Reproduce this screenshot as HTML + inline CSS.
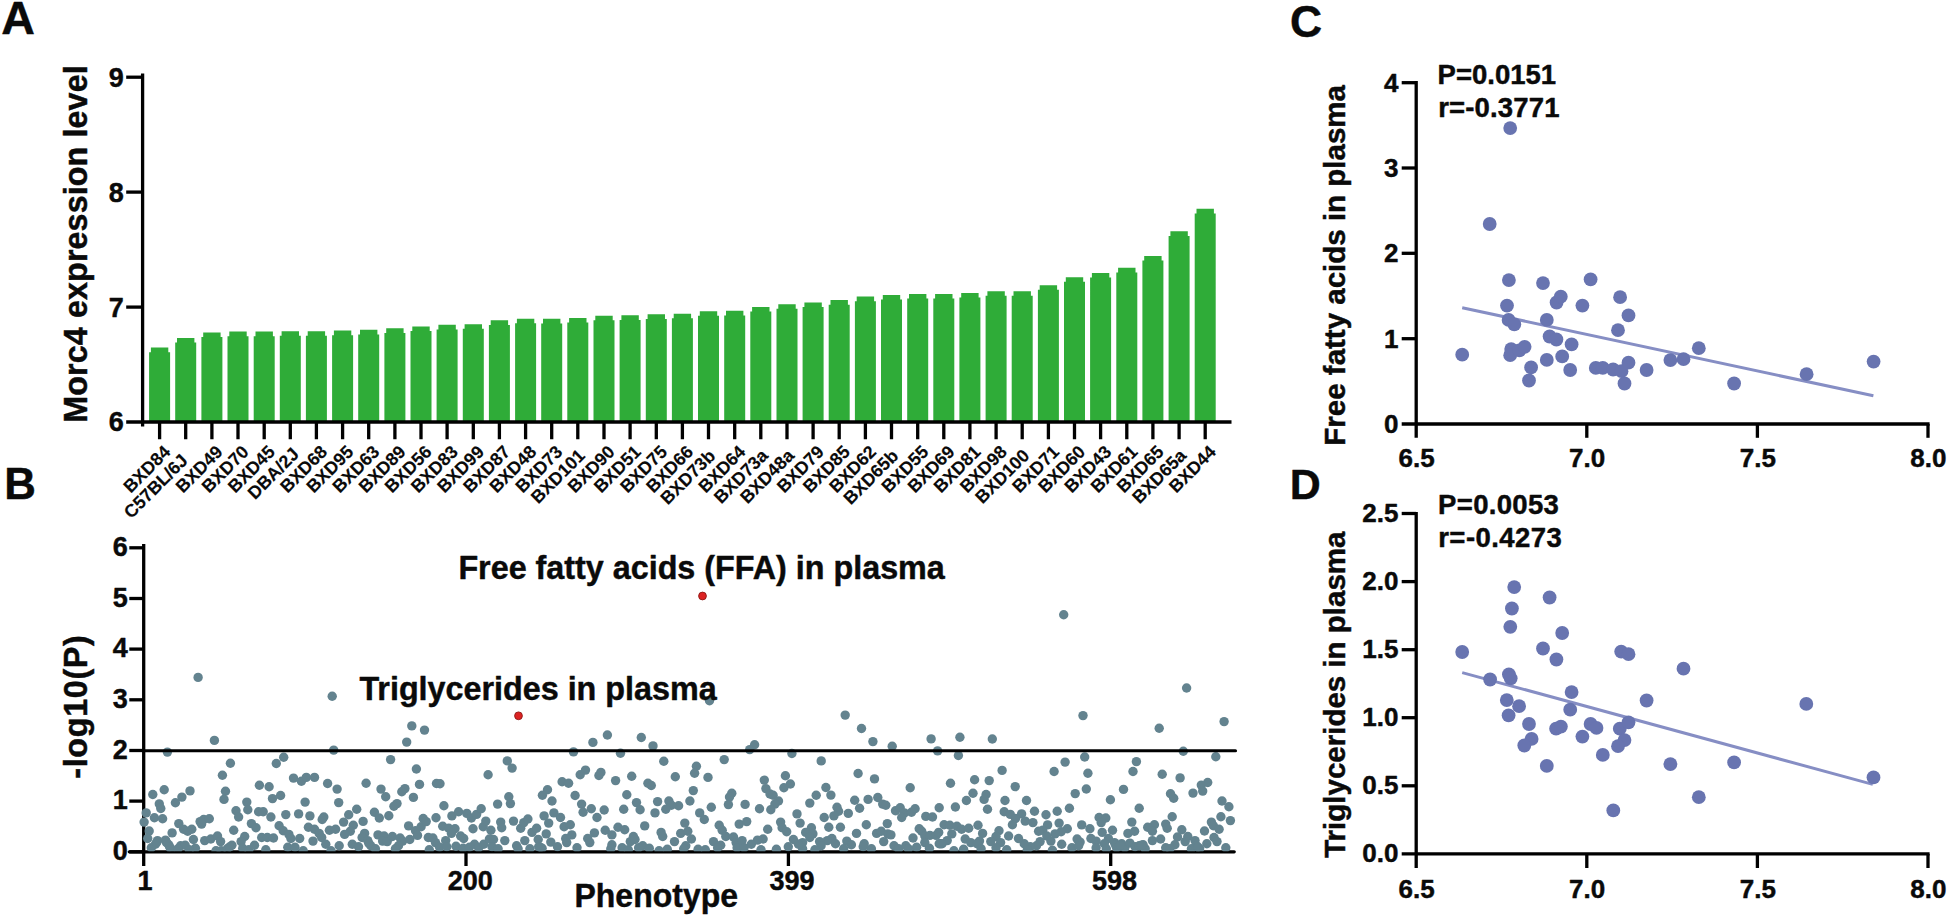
<!DOCTYPE html>
<html lang="en"><head><meta charset="utf-8"><title>Morc4 expression and plasma lipid phenotypes</title>
<style>html,body{margin:0;padding:0;background:#fff;overflow:hidden}svg{display:block}text{font-family:"Liberation Sans", Arial, Helvetica, sans-serif;font-weight:700;fill:#0a0a0a;stroke:#0a0a0a;stroke-width:0.45px;stroke-linejoin:round}text.sm{stroke-width:0.15px}.ax{stroke:#000;stroke-width:3.3;fill:none;stroke-linecap:butt}.bar{fill:#2fac38}.gd{fill:#63838f}.bd{fill:#6874b0}.rl{stroke:#868ec4;stroke-width:3;stroke-linecap:butt}</style></head><body>
<svg width="1948" height="917" viewBox="0 0 1948 917">
<rect width="1948" height="917" fill="#fff"/>
<text x="1.2" y="34.2" font-size="46.6">A</text>
<text x="4.3" y="499.2" font-size="43.8">B</text>
<text x="1289.9" y="37.2" font-size="44.4">C</text>
<text x="1289.8" y="499.4" font-size="42.9">D</text>
<g id="panelA">
<path class="bar" d="M149.1 422.0L149.1 352.2L150.9 352.2L150.9 347.6L168.3 347.6L168.3 352.2L170.1 352.2L170.1 422.0ZM175.2 422.0L175.2 342.6L177.0 342.6L177.0 338.0L194.4 338.0L194.4 342.6L196.2 342.6L196.2 422.0ZM201.4 422.0L201.4 337.0L203.2 337.0L203.2 332.4L220.6 332.4L220.6 337.0L222.4 337.0L222.4 422.0ZM227.5 422.0L227.5 336.2L229.3 336.2L229.3 331.6L246.7 331.6L246.7 336.2L248.5 336.2L248.5 422.0ZM253.7 422.0L253.7 336.2L255.5 336.2L255.5 331.6L272.9 331.6L272.9 336.2L274.7 336.2L274.7 422.0ZM279.8 422.0L279.8 335.8L281.6 335.8L281.6 331.2L299.0 331.2L299.0 335.8L300.8 335.8L300.8 422.0ZM305.9 422.0L305.9 335.8L307.7 335.8L307.7 331.2L325.1 331.2L325.1 335.8L326.9 335.8L326.9 422.0ZM332.1 422.0L332.1 335.2L333.9 335.2L333.9 330.6L351.3 330.6L351.3 335.2L353.1 335.2L353.1 422.0ZM358.2 422.0L358.2 334.4L360.0 334.4L360.0 329.8L377.4 329.8L377.4 334.4L379.2 334.4L379.2 422.0ZM384.4 422.0L384.4 332.9L386.2 332.9L386.2 328.3L403.6 328.3L403.6 332.9L405.4 332.9L405.4 422.0ZM410.5 422.0L410.5 331.1L412.3 331.1L412.3 326.5L429.7 326.5L429.7 331.1L431.5 331.1L431.5 422.0ZM436.6 422.0L436.6 329.4L438.4 329.4L438.4 324.8L455.8 324.8L455.8 329.4L457.6 329.4L457.6 422.0ZM462.8 422.0L462.8 328.8L464.6 328.8L464.6 324.2L482.0 324.2L482.0 328.8L483.8 328.8L483.8 422.0ZM488.9 422.0L488.9 324.9L490.7 324.9L490.7 320.3L508.1 320.3L508.1 324.9L509.9 324.9L509.9 422.0ZM515.1 422.0L515.1 323.3L516.9 323.3L516.9 318.7L534.3 318.7L534.3 323.3L536.1 323.3L536.1 422.0ZM541.2 422.0L541.2 323.4L543.0 323.4L543.0 318.8L560.4 318.8L560.4 323.4L562.2 323.4L562.2 422.0ZM567.3 422.0L567.3 322.6L569.1 322.6L569.1 318.0L586.5 318.0L586.5 322.6L588.3 322.6L588.3 422.0ZM593.5 422.0L593.5 320.3L595.3 320.3L595.3 315.7L612.7 315.7L612.7 320.3L614.5 320.3L614.5 422.0ZM619.6 422.0L619.6 319.9L621.4 319.9L621.4 315.3L638.8 315.3L638.8 319.9L640.6 319.9L640.6 422.0ZM645.8 422.0L645.8 318.9L647.6 318.9L647.6 314.3L665.0 314.3L665.0 318.9L666.8 318.9L666.8 422.0ZM671.9 422.0L671.9 318.3L673.7 318.3L673.7 313.7L691.1 313.7L691.1 318.3L692.9 318.3L692.9 422.0ZM698.0 422.0L698.0 315.8L699.8 315.8L699.8 311.2L717.2 311.2L717.2 315.8L719.0 315.8L719.0 422.0ZM724.2 422.0L724.2 315.4L726.0 315.4L726.0 310.8L743.4 310.8L743.4 315.4L745.2 315.4L745.2 422.0ZM750.3 422.0L750.3 311.5L752.1 311.5L752.1 306.9L769.5 306.9L769.5 311.5L771.3 311.5L771.3 422.0ZM776.5 422.0L776.5 308.8L778.3 308.8L778.3 304.2L795.7 304.2L795.7 308.8L797.5 308.8L797.5 422.0ZM802.6 422.0L802.6 307.0L804.4 307.0L804.4 302.4L821.8 302.4L821.8 307.0L823.6 307.0L823.6 422.0ZM828.7 422.0L828.7 304.7L830.5 304.7L830.5 300.1L847.9 300.1L847.9 304.7L849.7 304.7L849.7 422.0ZM854.9 422.0L854.9 301.2L856.7 301.2L856.7 296.6L874.1 296.6L874.1 301.2L875.9 301.2L875.9 422.0ZM881.0 422.0L881.0 299.6L882.8 299.6L882.8 295.0L900.2 295.0L900.2 299.6L902.0 299.6L902.0 422.0ZM907.2 422.0L907.2 298.5L909.0 298.5L909.0 293.9L926.4 293.9L926.4 298.5L928.2 298.5L928.2 422.0ZM933.3 422.0L933.3 298.6L935.1 298.6L935.1 294.0L952.5 294.0L952.5 298.6L954.3 298.6L954.3 422.0ZM959.4 422.0L959.4 297.5L961.2 297.5L961.2 292.9L978.6 292.9L978.6 297.5L980.4 297.5L980.4 422.0ZM985.6 422.0L985.6 295.8L987.4 295.8L987.4 291.2L1004.8 291.2L1004.8 295.8L1006.6 295.8L1006.6 422.0ZM1011.7 422.0L1011.7 295.8L1013.5 295.8L1013.5 291.2L1030.9 291.2L1030.9 295.8L1032.7 295.8L1032.7 422.0ZM1037.9 422.0L1037.9 289.8L1039.7 289.8L1039.7 285.2L1057.1 285.2L1057.1 289.8L1058.9 289.8L1058.9 422.0ZM1064.0 422.0L1064.0 281.8L1065.8 281.8L1065.8 277.2L1083.2 277.2L1083.2 281.8L1085.0 281.8L1085.0 422.0ZM1090.1 422.0L1090.1 277.5L1091.9 277.5L1091.9 272.9L1109.3 272.9L1109.3 277.5L1111.1 277.5L1111.1 422.0ZM1116.3 422.0L1116.3 272.4L1118.1 272.4L1118.1 267.8L1135.5 267.8L1135.5 272.4L1137.3 272.4L1137.3 422.0ZM1142.4 422.0L1142.4 260.6L1144.2 260.6L1144.2 256.0L1161.6 256.0L1161.6 260.6L1163.4 260.6L1163.4 422.0ZM1168.6 422.0L1168.6 235.9L1170.4 235.9L1170.4 231.3L1187.8 231.3L1187.8 235.9L1189.6 235.9L1189.6 422.0ZM1194.7 422.0L1194.7 213.4L1196.5 213.4L1196.5 208.8L1213.9 208.8L1213.9 213.4L1215.7 213.4L1215.7 422.0Z"/>
<path class="ax" d="M142.6 73.6V426.5"/>
<path class="ax" d="M126.2 422.0H1231.5"/>
<path class="ax" d="M126.2 307.1H142.6"/>
<path class="ax" d="M126.2 192.1H142.6"/>
<path class="ax" d="M126.2 77.2H142.6"/>
<path class="ax" d="M159.6 422.0V439.3M185.7 422.0V439.3M211.9 422.0V439.3M238.0 422.0V439.3M264.2 422.0V439.3M290.3 422.0V439.3M316.4 422.0V439.3M342.6 422.0V439.3M368.7 422.0V439.3M394.9 422.0V439.3M421.0 422.0V439.3M447.1 422.0V439.3M473.3 422.0V439.3M499.4 422.0V439.3M525.6 422.0V439.3M551.7 422.0V439.3M577.8 422.0V439.3M604.0 422.0V439.3M630.1 422.0V439.3M656.3 422.0V439.3M682.4 422.0V439.3M708.5 422.0V439.3M734.7 422.0V439.3M760.8 422.0V439.3M787.0 422.0V439.3M813.1 422.0V439.3M839.2 422.0V439.3M865.4 422.0V439.3M891.5 422.0V439.3M917.7 422.0V439.3M943.8 422.0V439.3M969.9 422.0V439.3M996.1 422.0V439.3M1022.2 422.0V439.3M1048.4 422.0V439.3M1074.5 422.0V439.3M1100.6 422.0V439.3M1126.8 422.0V439.3M1152.9 422.0V439.3M1179.1 422.0V439.3M1205.2 422.0V439.3"/>
<text x="123.9" y="431.4" font-size="27" text-anchor="end">6</text>
<text x="123.9" y="316.5" font-size="27" text-anchor="end">7</text>
<text x="123.9" y="201.5" font-size="27" text-anchor="end">8</text>
<text x="123.9" y="86.6" font-size="27" text-anchor="end">9</text>
<text transform="translate(86.5 422.7) rotate(-90)" font-size="32.3" textLength="357.4" lengthAdjust="spacing">Morc4 expression level</text>
<text class="sm" transform="translate(171.5 453.0) rotate(-45)" x="-0.0" font-size="17.9" text-anchor="end">BXD84</text>
<text class="sm" transform="translate(197.6 453.0) rotate(-45)" x="-12.4" font-size="17.9" text-anchor="end">C57BL/6J</text>
<text class="sm" transform="translate(223.8 453.0) rotate(-45)" x="-0.0" font-size="17.9" text-anchor="end">BXD49</text>
<text class="sm" transform="translate(249.9 453.0) rotate(-45)" x="-0.0" font-size="17.9" text-anchor="end">BXD70</text>
<text class="sm" transform="translate(276.1 453.0) rotate(-45)" x="-0.0" font-size="17.9" text-anchor="end">BXD45</text>
<text class="sm" transform="translate(302.2 453.0) rotate(-45)" x="-3.1" font-size="17.9" text-anchor="end">DBA/2J</text>
<text class="sm" transform="translate(328.3 453.0) rotate(-45)" x="-0.0" font-size="17.9" text-anchor="end">BXD68</text>
<text class="sm" transform="translate(354.5 453.0) rotate(-45)" x="-0.0" font-size="17.9" text-anchor="end">BXD95</text>
<text class="sm" transform="translate(380.6 453.0) rotate(-45)" x="-0.0" font-size="17.9" text-anchor="end">BXD63</text>
<text class="sm" transform="translate(406.8 453.0) rotate(-45)" x="-0.0" font-size="17.9" text-anchor="end">BXD89</text>
<text class="sm" transform="translate(432.9 453.0) rotate(-45)" x="-0.0" font-size="17.9" text-anchor="end">BXD56</text>
<text class="sm" transform="translate(459.0 453.0) rotate(-45)" x="-0.0" font-size="17.9" text-anchor="end">BXD83</text>
<text class="sm" transform="translate(485.2 453.0) rotate(-45)" x="-0.0" font-size="17.9" text-anchor="end">BXD99</text>
<text class="sm" transform="translate(511.3 453.0) rotate(-45)" x="-0.0" font-size="17.9" text-anchor="end">BXD87</text>
<text class="sm" transform="translate(537.5 453.0) rotate(-45)" x="-0.0" font-size="17.9" text-anchor="end">BXD48</text>
<text class="sm" transform="translate(563.6 453.0) rotate(-45)" x="-0.0" font-size="17.9" text-anchor="end">BXD73</text>
<text class="sm" transform="translate(589.7 453.0) rotate(-45)" x="-5.2" font-size="17.9" text-anchor="end">BXD101</text>
<text class="sm" transform="translate(615.9 453.0) rotate(-45)" x="-0.0" font-size="17.9" text-anchor="end">BXD90</text>
<text class="sm" transform="translate(642.0 453.0) rotate(-45)" x="-0.0" font-size="17.9" text-anchor="end">BXD51</text>
<text class="sm" transform="translate(668.2 453.0) rotate(-45)" x="-0.0" font-size="17.9" text-anchor="end">BXD75</text>
<text class="sm" transform="translate(694.3 453.0) rotate(-45)" x="-0.0" font-size="17.9" text-anchor="end">BXD66</text>
<text class="sm" transform="translate(720.4 453.0) rotate(-45)" x="-5.7" font-size="17.9" text-anchor="end">BXD73b</text>
<text class="sm" transform="translate(746.6 453.0) rotate(-45)" x="-0.0" font-size="17.9" text-anchor="end">BXD64</text>
<text class="sm" transform="translate(772.7 453.0) rotate(-45)" x="-5.2" font-size="17.9" text-anchor="end">BXD73a</text>
<text class="sm" transform="translate(798.9 453.0) rotate(-45)" x="-5.2" font-size="17.9" text-anchor="end">BXD48a</text>
<text class="sm" transform="translate(825.0 453.0) rotate(-45)" x="-0.0" font-size="17.9" text-anchor="end">BXD79</text>
<text class="sm" transform="translate(851.1 453.0) rotate(-45)" x="-0.0" font-size="17.9" text-anchor="end">BXD85</text>
<text class="sm" transform="translate(877.3 453.0) rotate(-45)" x="-0.0" font-size="17.9" text-anchor="end">BXD62</text>
<text class="sm" transform="translate(903.4 453.0) rotate(-45)" x="-5.7" font-size="17.9" text-anchor="end">BXD65b</text>
<text class="sm" transform="translate(929.6 453.0) rotate(-45)" x="-0.0" font-size="17.9" text-anchor="end">BXD55</text>
<text class="sm" transform="translate(955.7 453.0) rotate(-45)" x="-0.0" font-size="17.9" text-anchor="end">BXD69</text>
<text class="sm" transform="translate(981.8 453.0) rotate(-45)" x="-0.0" font-size="17.9" text-anchor="end">BXD81</text>
<text class="sm" transform="translate(1008.0 453.0) rotate(-45)" x="-0.0" font-size="17.9" text-anchor="end">BXD98</text>
<text class="sm" transform="translate(1034.1 453.0) rotate(-45)" x="-5.2" font-size="17.9" text-anchor="end">BXD100</text>
<text class="sm" transform="translate(1060.3 453.0) rotate(-45)" x="-0.0" font-size="17.9" text-anchor="end">BXD71</text>
<text class="sm" transform="translate(1086.4 453.0) rotate(-45)" x="-0.0" font-size="17.9" text-anchor="end">BXD60</text>
<text class="sm" transform="translate(1112.5 453.0) rotate(-45)" x="-0.0" font-size="17.9" text-anchor="end">BXD43</text>
<text class="sm" transform="translate(1138.7 453.0) rotate(-45)" x="-0.0" font-size="17.9" text-anchor="end">BXD61</text>
<text class="sm" transform="translate(1164.8 453.0) rotate(-45)" x="-0.0" font-size="17.9" text-anchor="end">BXD65</text>
<text class="sm" transform="translate(1191.0 453.0) rotate(-45)" x="-5.2" font-size="17.9" text-anchor="end">BXD65a</text>
<text class="sm" transform="translate(1217.1 453.0) rotate(-45)" x="-0.0" font-size="17.9" text-anchor="end">BXD44</text>
</g>
<g id="panelB">
<path class="ax" d="M143.7 544.0V866.0"/>
<path class="ax" style="stroke-linecap:round" d="M129.3 851.8H1234.2"/>
<path class="ax" d="M129.3 851.8H143.7"/>
<path class="ax" d="M129.3 801.1H143.7"/>
<path class="ax" d="M129.3 750.5H143.7"/>
<path class="ax" d="M129.3 699.8H143.7"/>
<path class="ax" d="M129.3 649.1H143.7"/>
<path class="ax" d="M129.3 598.5H143.7"/>
<path class="ax" d="M129.3 547.8H143.7"/>
<path class="ax" d="M466.0 851.8V866"/>
<path class="ax" d="M788.4 851.8V866"/>
<path class="ax" d="M1110.7 851.8V866"/>
<clipPath id="cb"><rect x="130" y="540" width="1120" height="311.2"/></clipPath><g class="gd" clip-path="url(#cb)">
<circle cx="198.1" cy="677.4" r="4.7"/><circle cx="332.2" cy="696.3" r="4.7"/><circle cx="214.4" cy="740.4" r="4.7"/><circle cx="167.4" cy="752.1" r="4.7"/><circle cx="333.7" cy="750.1" r="4.7"/><circle cx="411.8" cy="725.9" r="4.7"/><circle cx="424.5" cy="730.1" r="4.7"/><circle cx="406.7" cy="742.1" r="4.7"/><circle cx="390.6" cy="759.6" r="4.7"/><circle cx="283.7" cy="757.3" r="4.7"/><circle cx="276.3" cy="763.5" r="4.7"/><circle cx="230.4" cy="763.2" r="4.7"/><circle cx="416.4" cy="769.0" r="4.7"/><circle cx="222.4" cy="775.2" r="4.7"/><circle cx="293.5" cy="778.1" r="4.7"/><circle cx="301.4" cy="781.2" r="4.7"/><circle cx="306.3" cy="777.4" r="4.7"/><circle cx="314.5" cy="777.4" r="4.7"/><circle cx="327.6" cy="783.5" r="4.7"/><circle cx="337.1" cy="789.1" r="4.7"/><circle cx="259.4" cy="785.2" r="4.7"/><circle cx="269.1" cy="786.8" r="4.7"/><circle cx="225.5" cy="791.2" r="4.7"/><circle cx="366.1" cy="783.2" r="4.7"/><circle cx="381.0" cy="789.1" r="4.7"/><circle cx="419.5" cy="784.4" r="4.7"/><circle cx="436.5" cy="783.5" r="4.7"/><circle cx="404.9" cy="788.6" r="4.7"/><circle cx="401.8" cy="791.7" r="4.7"/><circle cx="190.0" cy="790.9" r="4.7"/><circle cx="164.2" cy="789.8" r="4.7"/><circle cx="152.8" cy="794.5" r="4.7"/><circle cx="181.9" cy="797.1" r="4.7"/><circle cx="280.6" cy="795.5" r="4.7"/><circle cx="272.5" cy="798.6" r="4.7"/><circle cx="385.7" cy="796.8" r="4.7"/><circle cx="413.4" cy="797.4" r="4.7"/><circle cx="224.0" cy="799.4" r="4.7"/><circle cx="709.5" cy="700.8" r="4.7"/><circle cx="607.4" cy="735.0" r="4.7"/><circle cx="592.9" cy="742.4" r="4.7"/><circle cx="641.3" cy="737.5" r="4.7"/><circle cx="653.0" cy="745.9" r="4.7"/><circle cx="573.5" cy="751.9" r="4.7"/><circle cx="620.5" cy="753.2" r="4.7"/><circle cx="663.8" cy="761.2" r="4.7"/><circle cx="724.2" cy="759.6" r="4.7"/><circle cx="507.3" cy="760.9" r="4.7"/><circle cx="512.1" cy="768.1" r="4.7"/><circle cx="488.1" cy="774.7" r="4.7"/><circle cx="585.5" cy="770.1" r="4.7"/><circle cx="580.2" cy="774.7" r="4.7"/><circle cx="600.9" cy="772.4" r="4.7"/><circle cx="598.9" cy="775.5" r="4.7"/><circle cx="631.7" cy="776.3" r="4.7"/><circle cx="696.4" cy="766.3" r="4.7"/><circle cx="694.6" cy="773.2" r="4.7"/><circle cx="675.3" cy="776.7" r="4.7"/><circle cx="708.0" cy="777.4" r="4.7"/><circle cx="615.6" cy="780.6" r="4.7"/><circle cx="562.1" cy="781.7" r="4.7"/><circle cx="568.6" cy="783.2" r="4.7"/><circle cx="647.9" cy="783.2" r="4.7"/><circle cx="651.3" cy="785.5" r="4.7"/><circle cx="547.5" cy="789.8" r="4.7"/><circle cx="542.4" cy="795.2" r="4.7"/><circle cx="693.3" cy="790.6" r="4.7"/><circle cx="575.1" cy="795.5" r="4.7"/><circle cx="626.8" cy="794.8" r="4.7"/><circle cx="508.8" cy="796.8" r="4.7"/><circle cx="731.8" cy="793.2" r="4.7"/><circle cx="440.0" cy="783.7" r="4.7"/><circle cx="729.5" cy="797.0" r="4.7"/><circle cx="552.0" cy="801.0" r="4.7"/><circle cx="845.2" cy="715.1" r="4.7"/><circle cx="861.5" cy="728.5" r="4.7"/><circle cx="872.9" cy="741.6" r="4.7"/><circle cx="892.2" cy="746.2" r="4.7"/><circle cx="931.1" cy="738.9" r="4.7"/><circle cx="959.9" cy="737.3" r="4.7"/><circle cx="992.3" cy="739.0" r="4.7"/><circle cx="937.6" cy="750.9" r="4.7"/><circle cx="958.4" cy="755.5" r="4.7"/><circle cx="754.6" cy="744.7" r="4.7"/><circle cx="749.7" cy="749.6" r="4.7"/><circle cx="791.9" cy="753.5" r="4.7"/><circle cx="821.2" cy="760.9" r="4.7"/><circle cx="1002.1" cy="770.4" r="4.7"/><circle cx="858.1" cy="773.5" r="4.7"/><circle cx="874.5" cy="778.9" r="4.7"/><circle cx="785.4" cy="775.8" r="4.7"/><circle cx="764.3" cy="780.1" r="4.7"/><circle cx="790.4" cy="784.0" r="4.7"/><circle cx="783.9" cy="787.8" r="4.7"/><circle cx="765.9" cy="788.6" r="4.7"/><circle cx="770.0" cy="794.0" r="4.7"/><circle cx="773.1" cy="795.2" r="4.7"/><circle cx="825.9" cy="787.5" r="4.7"/><circle cx="830.9" cy="795.1" r="4.7"/><circle cx="816.2" cy="795.2" r="4.7"/><circle cx="910.2" cy="787.8" r="4.7"/><circle cx="950.5" cy="783.2" r="4.7"/><circle cx="974.6" cy="779.8" r="4.7"/><circle cx="989.2" cy="780.6" r="4.7"/><circle cx="1015.2" cy="786.6" r="4.7"/><circle cx="973.0" cy="793.2" r="4.7"/><circle cx="986.1" cy="794.5" r="4.7"/><circle cx="877.8" cy="797.5" r="4.7"/><circle cx="868.1" cy="799.4" r="4.7"/><circle cx="854.7" cy="800.2" r="4.7"/><circle cx="778.5" cy="801.0" r="4.7"/><circle cx="966.4" cy="800.5" r="4.7"/><circle cx="984.1" cy="799.4" r="4.7"/><circle cx="1063.7" cy="614.8" r="4.7"/><circle cx="1186.6" cy="688.0" r="4.7"/><circle cx="1083.0" cy="715.6" r="4.7"/><circle cx="1224.1" cy="721.6" r="4.7"/><circle cx="1159.2" cy="728.3" r="4.7"/><circle cx="1183.3" cy="751.3" r="4.7"/><circle cx="1084.7" cy="757.0" r="4.7"/><circle cx="1215.8" cy="756.8" r="4.7"/><circle cx="1065.1" cy="762.1" r="4.7"/><circle cx="1136.4" cy="761.6" r="4.7"/><circle cx="1054.1" cy="771.5" r="4.7"/><circle cx="1087.9" cy="773.3" r="4.7"/><circle cx="1133.0" cy="771.5" r="4.7"/><circle cx="1162.2" cy="774.3" r="4.7"/><circle cx="1180.1" cy="777.9" r="4.7"/><circle cx="1207.7" cy="782.5" r="4.7"/><circle cx="1201.3" cy="785.1" r="4.7"/><circle cx="1202.7" cy="791.1" r="4.7"/><circle cx="1193.0" cy="793.1" r="4.7"/><circle cx="1170.5" cy="793.8" r="4.7"/><circle cx="1173.7" cy="798.2" r="4.7"/><circle cx="1123.5" cy="789.4" r="4.7"/><circle cx="1086.3" cy="789.0" r="4.7"/><circle cx="1075.2" cy="793.6" r="4.7"/><circle cx="1110.4" cy="799.8" r="4.7"/><circle cx="1026.5" cy="800.5" r="4.7"/><circle cx="1005.0" cy="800.5" r="4.7"/><circle cx="1222.0" cy="801.0" r="4.7"/><circle cx="175.4" cy="802.8" r="4.7"/><circle cx="159.3" cy="803.9" r="4.7"/><circle cx="160.8" cy="808.5" r="4.7"/><circle cx="146.2" cy="812.9" r="4.7"/><circle cx="144.1" cy="822.1" r="4.7"/><circle cx="154.4" cy="817.8" r="4.7"/><circle cx="162.6" cy="818.8" r="4.7"/><circle cx="149.2" cy="831.0" r="4.7"/><circle cx="147.7" cy="838.5" r="4.7"/><circle cx="157.5" cy="840.6" r="4.7"/><circle cx="151.3" cy="847.8" r="4.7"/><circle cx="155.4" cy="844.2" r="4.7"/><circle cx="165.5" cy="840.1" r="4.7"/><circle cx="172.1" cy="832.9" r="4.7"/><circle cx="168.7" cy="844.7" r="4.7"/><circle cx="170.8" cy="848.8" r="4.7"/><circle cx="178.8" cy="823.6" r="4.7"/><circle cx="183.6" cy="829.3" r="4.7"/><circle cx="187.7" cy="831.3" r="4.7"/><circle cx="191.8" cy="829.3" r="4.7"/><circle cx="193.4" cy="839.5" r="4.7"/><circle cx="180.6" cy="845.7" r="4.7"/><circle cx="185.2" cy="845.2" r="4.7"/><circle cx="178.0" cy="848.8" r="4.7"/><circle cx="195.4" cy="848.3" r="4.7"/><circle cx="189.3" cy="849.8" r="4.7"/><circle cx="200.1" cy="821.6" r="4.7"/><circle cx="201.6" cy="824.1" r="4.7"/><circle cx="203.7" cy="819.5" r="4.7"/><circle cx="209.3" cy="818.8" r="4.7"/><circle cx="204.7" cy="840.6" r="4.7"/><circle cx="210.8" cy="839.0" r="4.7"/><circle cx="217.5" cy="836.0" r="4.7"/><circle cx="220.6" cy="841.6" r="4.7"/><circle cx="216.0" cy="850.8" r="4.7"/><circle cx="221.1" cy="850.8" r="4.7"/><circle cx="233.7" cy="830.3" r="4.7"/><circle cx="236.0" cy="810.8" r="4.7"/><circle cx="238.6" cy="817.0" r="4.7"/><circle cx="246.8" cy="802.1" r="4.7"/><circle cx="247.8" cy="809.8" r="4.7"/><circle cx="251.4" cy="823.6" r="4.7"/><circle cx="256.0" cy="827.7" r="4.7"/><circle cx="244.7" cy="836.5" r="4.7"/><circle cx="241.1" cy="841.6" r="4.7"/><circle cx="231.9" cy="845.2" r="4.7"/><circle cx="227.3" cy="848.8" r="4.7"/><circle cx="242.7" cy="848.3" r="4.7"/><circle cx="248.8" cy="849.8" r="4.7"/><circle cx="254.5" cy="845.2" r="4.7"/><circle cx="258.6" cy="811.8" r="4.7"/><circle cx="263.2" cy="811.8" r="4.7"/><circle cx="270.9" cy="817.0" r="4.7"/><circle cx="261.7" cy="837.5" r="4.7"/><circle cx="267.3" cy="837.5" r="4.7"/><circle cx="273.5" cy="838.0" r="4.7"/><circle cx="265.8" cy="849.8" r="4.7"/><circle cx="279.1" cy="825.7" r="4.7"/><circle cx="283.2" cy="830.8" r="4.7"/><circle cx="288.9" cy="834.4" r="4.7"/><circle cx="290.9" cy="838.5" r="4.7"/><circle cx="285.8" cy="814.6" r="4.7"/><circle cx="298.6" cy="813.9" r="4.7"/><circle cx="287.8" cy="847.2" r="4.7"/><circle cx="295.0" cy="847.2" r="4.7"/><circle cx="303.2" cy="850.8" r="4.7"/><circle cx="299.7" cy="838.5" r="4.7"/><circle cx="305.1" cy="802.1" r="4.7"/><circle cx="309.9" cy="815.9" r="4.7"/><circle cx="308.4" cy="827.2" r="4.7"/><circle cx="314.5" cy="829.3" r="4.7"/><circle cx="319.2" cy="833.4" r="4.7"/><circle cx="321.7" cy="837.5" r="4.7"/><circle cx="313.0" cy="841.1" r="4.7"/><circle cx="325.8" cy="844.2" r="4.7"/><circle cx="331.0" cy="850.8" r="4.7"/><circle cx="323.8" cy="817.0" r="4.7"/><circle cx="322.2" cy="819.5" r="4.7"/><circle cx="329.4" cy="830.3" r="4.7"/><circle cx="335.6" cy="829.3" r="4.7"/><circle cx="338.7" cy="802.6" r="4.7"/><circle cx="339.2" cy="845.7" r="4.7"/><circle cx="397.0" cy="803.6" r="4.7"/><circle cx="393.9" cy="806.2" r="4.7"/><circle cx="443.9" cy="805.7" r="4.7"/><circle cx="356.7" cy="809.3" r="4.7"/><circle cx="348.7" cy="814.7" r="4.7"/><circle cx="374.4" cy="812.3" r="4.7"/><circle cx="379.3" cy="818.0" r="4.7"/><circle cx="388.8" cy="815.7" r="4.7"/><circle cx="363.1" cy="821.4" r="4.7"/><circle cx="343.6" cy="822.1" r="4.7"/><circle cx="353.3" cy="825.2" r="4.7"/><circle cx="350.3" cy="831.3" r="4.7"/><circle cx="344.6" cy="834.4" r="4.7"/><circle cx="364.6" cy="833.4" r="4.7"/><circle cx="362.1" cy="837.5" r="4.7"/><circle cx="367.7" cy="840.6" r="4.7"/><circle cx="352.3" cy="844.2" r="4.7"/><circle cx="358.5" cy="846.7" r="4.7"/><circle cx="370.8" cy="845.7" r="4.7"/><circle cx="375.4" cy="848.8" r="4.7"/><circle cx="378.0" cy="834.9" r="4.7"/><circle cx="384.1" cy="836.0" r="4.7"/><circle cx="382.6" cy="841.1" r="4.7"/><circle cx="387.2" cy="841.6" r="4.7"/><circle cx="392.4" cy="836.5" r="4.7"/><circle cx="400.1" cy="838.0" r="4.7"/><circle cx="402.6" cy="841.1" r="4.7"/><circle cx="398.5" cy="845.7" r="4.7"/><circle cx="395.4" cy="848.8" r="4.7"/><circle cx="409.8" cy="839.5" r="4.7"/><circle cx="408.6" cy="825.9" r="4.7"/><circle cx="415.5" cy="830.8" r="4.7"/><circle cx="417.5" cy="835.4" r="4.7"/><circle cx="421.1" cy="826.7" r="4.7"/><circle cx="426.2" cy="821.6" r="4.7"/><circle cx="423.2" cy="818.5" r="4.7"/><circle cx="436.0" cy="817.8" r="4.7"/><circle cx="442.7" cy="826.2" r="4.7"/><circle cx="448.8" cy="828.3" r="4.7"/><circle cx="455.0" cy="828.8" r="4.7"/><circle cx="451.4" cy="833.4" r="4.7"/><circle cx="428.3" cy="837.5" r="4.7"/><circle cx="432.9" cy="838.0" r="4.7"/><circle cx="435.5" cy="842.6" r="4.7"/><circle cx="429.3" cy="849.8" r="4.7"/><circle cx="439.6" cy="847.2" r="4.7"/><circle cx="445.7" cy="840.6" r="4.7"/><circle cx="446.8" cy="846.7" r="4.7"/><circle cx="456.0" cy="846.2" r="4.7"/><circle cx="460.6" cy="836.0" r="4.7"/><circle cx="463.7" cy="838.5" r="4.7"/><circle cx="463.2" cy="848.3" r="4.7"/><circle cx="451.9" cy="815.9" r="4.7"/><circle cx="458.6" cy="811.8" r="4.7"/><circle cx="466.8" cy="813.4" r="4.7"/><circle cx="471.4" cy="818.0" r="4.7"/><circle cx="476.6" cy="814.4" r="4.7"/><circle cx="481.2" cy="808.7" r="4.7"/><circle cx="473.0" cy="828.8" r="4.7"/><circle cx="474.5" cy="844.2" r="4.7"/><circle cx="469.4" cy="847.2" r="4.7"/><circle cx="478.6" cy="847.8" r="4.7"/><circle cx="483.7" cy="844.2" r="4.7"/><circle cx="483.2" cy="826.7" r="4.7"/><circle cx="485.8" cy="821.1" r="4.7"/><circle cx="490.9" cy="830.3" r="4.7"/><circle cx="489.4" cy="839.0" r="4.7"/><circle cx="493.5" cy="839.5" r="4.7"/><circle cx="492.0" cy="846.7" r="4.7"/><circle cx="498.1" cy="848.8" r="4.7"/><circle cx="497.6" cy="804.1" r="4.7"/><circle cx="510.4" cy="803.6" r="4.7"/><circle cx="500.7" cy="822.1" r="4.7"/><circle cx="501.7" cy="827.7" r="4.7"/><circle cx="504.8" cy="840.6" r="4.7"/><circle cx="513.5" cy="821.1" r="4.7"/><circle cx="516.6" cy="845.7" r="4.7"/><circle cx="518.1" cy="848.8" r="4.7"/><circle cx="520.7" cy="828.3" r="4.7"/><circle cx="523.8" cy="822.6" r="4.7"/><circle cx="527.9" cy="819.0" r="4.7"/><circle cx="524.8" cy="840.6" r="4.7"/><circle cx="529.9" cy="848.8" r="4.7"/><circle cx="532.0" cy="832.4" r="4.7"/><circle cx="536.6" cy="828.3" r="4.7"/><circle cx="538.2" cy="839.5" r="4.7"/><circle cx="538.7" cy="846.7" r="4.7"/><circle cx="581.6" cy="804.1" r="4.7"/><circle cx="636.5" cy="802.6" r="4.7"/><circle cx="657.6" cy="801.6" r="4.7"/><circle cx="668.9" cy="801.0" r="4.7"/><circle cx="689.9" cy="801.0" r="4.7"/><circle cx="728.4" cy="804.6" r="4.7"/><circle cx="678.6" cy="805.7" r="4.7"/><circle cx="671.4" cy="805.2" r="4.7"/><circle cx="665.8" cy="809.3" r="4.7"/><circle cx="591.3" cy="808.7" r="4.7"/><circle cx="604.2" cy="810.0" r="4.7"/><circle cx="623.7" cy="809.3" r="4.7"/><circle cx="640.1" cy="809.8" r="4.7"/><circle cx="655.0" cy="812.9" r="4.7"/><circle cx="711.3" cy="807.2" r="4.7"/><circle cx="583.1" cy="812.3" r="4.7"/><circle cx="553.9" cy="812.9" r="4.7"/><circle cx="544.1" cy="815.9" r="4.7"/><circle cx="560.5" cy="817.5" r="4.7"/><circle cx="597.0" cy="817.5" r="4.7"/><circle cx="699.7" cy="812.9" r="4.7"/><circle cx="704.3" cy="819.5" r="4.7"/><circle cx="548.7" cy="823.1" r="4.7"/><circle cx="564.1" cy="826.7" r="4.7"/><circle cx="570.3" cy="824.7" r="4.7"/><circle cx="644.7" cy="825.9" r="4.7"/><circle cx="684.8" cy="823.1" r="4.7"/><circle cx="719.2" cy="825.2" r="4.7"/><circle cx="739.2" cy="824.1" r="4.7"/><circle cx="618.0" cy="827.2" r="4.7"/><circle cx="624.7" cy="829.8" r="4.7"/><circle cx="605.2" cy="830.3" r="4.7"/><circle cx="594.4" cy="832.9" r="4.7"/><circle cx="611.9" cy="834.9" r="4.7"/><circle cx="546.2" cy="833.9" r="4.7"/><circle cx="571.8" cy="834.9" r="4.7"/><circle cx="565.7" cy="838.5" r="4.7"/><circle cx="566.7" cy="842.6" r="4.7"/><circle cx="550.8" cy="842.1" r="4.7"/><circle cx="557.5" cy="846.7" r="4.7"/><circle cx="542.1" cy="848.3" r="4.7"/><circle cx="577.0" cy="847.8" r="4.7"/><circle cx="587.7" cy="838.5" r="4.7"/><circle cx="589.8" cy="842.6" r="4.7"/><circle cx="611.9" cy="844.7" r="4.7"/><circle cx="610.8" cy="848.8" r="4.7"/><circle cx="622.1" cy="847.8" r="4.7"/><circle cx="628.3" cy="849.8" r="4.7"/><circle cx="633.4" cy="836.5" r="4.7"/><circle cx="630.3" cy="841.6" r="4.7"/><circle cx="635.0" cy="839.5" r="4.7"/><circle cx="642.7" cy="845.7" r="4.7"/><circle cx="638.6" cy="847.8" r="4.7"/><circle cx="649.3" cy="848.3" r="4.7"/><circle cx="659.1" cy="850.8" r="4.7"/><circle cx="667.3" cy="849.3" r="4.7"/><circle cx="661.1" cy="832.4" r="4.7"/><circle cx="662.7" cy="836.5" r="4.7"/><circle cx="674.5" cy="841.6" r="4.7"/><circle cx="680.7" cy="833.4" r="4.7"/><circle cx="687.8" cy="831.3" r="4.7"/><circle cx="691.4" cy="839.0" r="4.7"/><circle cx="685.8" cy="845.7" r="4.7"/><circle cx="683.7" cy="848.8" r="4.7"/><circle cx="698.1" cy="849.3" r="4.7"/><circle cx="705.3" cy="849.8" r="4.7"/><circle cx="713.5" cy="841.6" r="4.7"/><circle cx="720.7" cy="845.2" r="4.7"/><circle cx="717.6" cy="847.8" r="4.7"/><circle cx="722.2" cy="830.3" r="4.7"/><circle cx="725.8" cy="836.5" r="4.7"/><circle cx="733.5" cy="837.0" r="4.7"/><circle cx="736.1" cy="842.6" r="4.7"/><circle cx="737.1" cy="847.8" r="4.7"/><circle cx="809.8" cy="803.1" r="4.7"/><circle cx="745.1" cy="804.4" r="4.7"/><circle cx="759.5" cy="808.7" r="4.7"/><circle cx="774.9" cy="804.1" r="4.7"/><circle cx="770.8" cy="809.8" r="4.7"/><circle cx="859.6" cy="808.2" r="4.7"/><circle cx="882.7" cy="804.1" r="4.7"/><circle cx="885.8" cy="805.2" r="4.7"/><circle cx="837.0" cy="807.2" r="4.7"/><circle cx="838.6" cy="811.3" r="4.7"/><circle cx="833.9" cy="815.9" r="4.7"/><circle cx="848.3" cy="813.4" r="4.7"/><circle cx="824.2" cy="817.5" r="4.7"/><circle cx="797.0" cy="813.9" r="4.7"/><circle cx="800.1" cy="823.1" r="4.7"/><circle cx="895.5" cy="810.8" r="4.7"/><circle cx="900.2" cy="807.7" r="4.7"/><circle cx="904.3" cy="812.9" r="4.7"/><circle cx="901.7" cy="817.5" r="4.7"/><circle cx="911.5" cy="812.3" r="4.7"/><circle cx="915.1" cy="808.7" r="4.7"/><circle cx="925.8" cy="816.4" r="4.7"/><circle cx="932.5" cy="817.0" r="4.7"/><circle cx="939.2" cy="807.7" r="4.7"/><circle cx="746.7" cy="821.6" r="4.7"/><circle cx="780.6" cy="822.1" r="4.7"/><circle cx="782.1" cy="827.7" r="4.7"/><circle cx="786.7" cy="831.8" r="4.7"/><circle cx="767.7" cy="829.3" r="4.7"/><circle cx="811.4" cy="827.7" r="4.7"/><circle cx="805.7" cy="832.4" r="4.7"/><circle cx="812.9" cy="833.9" r="4.7"/><circle cx="828.8" cy="827.2" r="4.7"/><circle cx="840.4" cy="827.2" r="4.7"/><circle cx="866.3" cy="824.7" r="4.7"/><circle cx="887.3" cy="823.6" r="4.7"/><circle cx="856.5" cy="833.4" r="4.7"/><circle cx="876.6" cy="833.4" r="4.7"/><circle cx="881.2" cy="831.3" r="4.7"/><circle cx="887.8" cy="833.9" r="4.7"/><circle cx="890.9" cy="834.9" r="4.7"/><circle cx="883.7" cy="841.6" r="4.7"/><circle cx="919.2" cy="828.8" r="4.7"/><circle cx="921.7" cy="831.3" r="4.7"/><circle cx="913.0" cy="838.0" r="4.7"/><circle cx="924.8" cy="836.0" r="4.7"/><circle cx="929.9" cy="835.4" r="4.7"/><circle cx="936.1" cy="835.4" r="4.7"/><circle cx="938.7" cy="832.4" r="4.7"/><circle cx="924.8" cy="842.6" r="4.7"/><circle cx="929.4" cy="848.3" r="4.7"/><circle cx="916.6" cy="847.2" r="4.7"/><circle cx="939.2" cy="843.7" r="4.7"/><circle cx="894.0" cy="845.7" r="4.7"/><circle cx="898.6" cy="848.8" r="4.7"/><circle cx="905.8" cy="845.7" r="4.7"/><circle cx="908.4" cy="848.8" r="4.7"/><circle cx="864.2" cy="843.7" r="4.7"/><circle cx="863.2" cy="846.7" r="4.7"/><circle cx="871.4" cy="848.8" r="4.7"/><circle cx="846.8" cy="841.1" r="4.7"/><circle cx="851.4" cy="844.7" r="4.7"/><circle cx="843.7" cy="848.8" r="4.7"/><circle cx="831.9" cy="838.5" r="4.7"/><circle cx="835.5" cy="843.7" r="4.7"/><circle cx="827.3" cy="840.6" r="4.7"/><circle cx="819.6" cy="841.6" r="4.7"/><circle cx="821.1" cy="845.7" r="4.7"/><circle cx="814.9" cy="849.8" r="4.7"/><circle cx="809.8" cy="837.5" r="4.7"/><circle cx="802.6" cy="842.6" r="4.7"/><circle cx="802.6" cy="848.8" r="4.7"/><circle cx="798.5" cy="844.2" r="4.7"/><circle cx="793.4" cy="839.5" r="4.7"/><circle cx="788.3" cy="846.7" r="4.7"/><circle cx="776.4" cy="849.3" r="4.7"/><circle cx="761.0" cy="849.8" r="4.7"/><circle cx="763.1" cy="839.0" r="4.7"/><circle cx="757.5" cy="840.1" r="4.7"/><circle cx="751.3" cy="844.2" r="4.7"/><circle cx="742.1" cy="840.6" r="4.7"/><circle cx="744.1" cy="847.8" r="4.7"/><circle cx="955.4" cy="807.0" r="4.7"/><circle cx="987.5" cy="809.3" r="4.7"/><circle cx="1069.4" cy="808.2" r="4.7"/><circle cx="1057.2" cy="811.3" r="4.7"/><circle cx="1046.0" cy="814.7" r="4.7"/><circle cx="1034.5" cy="811.3" r="4.7"/><circle cx="1021.6" cy="813.9" r="4.7"/><circle cx="1004.2" cy="811.8" r="4.7"/><circle cx="1010.3" cy="814.4" r="4.7"/><circle cx="1015.5" cy="818.5" r="4.7"/><circle cx="1025.2" cy="821.1" r="4.7"/><circle cx="1032.9" cy="822.6" r="4.7"/><circle cx="1012.4" cy="824.7" r="4.7"/><circle cx="1139.2" cy="808.2" r="4.7"/><circle cx="1099.1" cy="817.5" r="4.7"/><circle cx="1105.8" cy="818.0" r="4.7"/><circle cx="1101.2" cy="822.6" r="4.7"/><circle cx="1131.8" cy="822.1" r="4.7"/><circle cx="1081.7" cy="824.9" r="4.7"/><circle cx="1089.9" cy="828.8" r="4.7"/><circle cx="1059.1" cy="823.1" r="4.7"/><circle cx="1047.6" cy="824.9" r="4.7"/><circle cx="1067.3" cy="828.8" r="4.7"/><circle cx="1061.1" cy="831.8" r="4.7"/><circle cx="1055.0" cy="833.9" r="4.7"/><circle cx="1042.7" cy="830.3" r="4.7"/><circle cx="1038.6" cy="831.3" r="4.7"/><circle cx="1046.8" cy="836.0" r="4.7"/><circle cx="1050.9" cy="841.1" r="4.7"/><circle cx="1040.1" cy="841.6" r="4.7"/><circle cx="1036.5" cy="845.7" r="4.7"/><circle cx="1030.3" cy="846.7" r="4.7"/><circle cx="1024.2" cy="843.7" r="4.7"/><circle cx="1018.5" cy="838.5" r="4.7"/><circle cx="1027.3" cy="849.8" r="4.7"/><circle cx="1008.6" cy="836.0" r="4.7"/><circle cx="999.0" cy="830.8" r="4.7"/><circle cx="996.0" cy="836.5" r="4.7"/><circle cx="990.8" cy="841.6" r="4.7"/><circle cx="1000.6" cy="842.6" r="4.7"/><circle cx="996.0" cy="847.8" r="4.7"/><circle cx="1006.7" cy="849.8" r="4.7"/><circle cx="944.1" cy="824.7" r="4.7"/><circle cx="949.8" cy="825.2" r="4.7"/><circle cx="956.9" cy="826.2" r="4.7"/><circle cx="961.6" cy="829.3" r="4.7"/><circle cx="968.7" cy="828.3" r="4.7"/><circle cx="978.0" cy="825.2" r="4.7"/><circle cx="982.6" cy="833.4" r="4.7"/><circle cx="951.8" cy="833.9" r="4.7"/><circle cx="947.2" cy="840.6" r="4.7"/><circle cx="942.1" cy="843.7" r="4.7"/><circle cx="965.2" cy="839.0" r="4.7"/><circle cx="970.8" cy="842.6" r="4.7"/><circle cx="979.5" cy="841.1" r="4.7"/><circle cx="977.0" cy="843.7" r="4.7"/><circle cx="981.1" cy="848.8" r="4.7"/><circle cx="963.6" cy="849.3" r="4.7"/><circle cx="953.9" cy="850.8" r="4.7"/><circle cx="1052.4" cy="850.3" r="4.7"/><circle cx="1061.7" cy="844.2" r="4.7"/><circle cx="1071.9" cy="847.8" r="4.7"/><circle cx="1077.1" cy="839.0" r="4.7"/><circle cx="1080.1" cy="842.1" r="4.7"/><circle cx="1078.6" cy="845.7" r="4.7"/><circle cx="1090.9" cy="838.5" r="4.7"/><circle cx="1096.1" cy="841.1" r="4.7"/><circle cx="1096.1" cy="847.8" r="4.7"/><circle cx="1102.2" cy="832.4" r="4.7"/><circle cx="1112.5" cy="830.3" r="4.7"/><circle cx="1108.4" cy="838.5" r="4.7"/><circle cx="1104.3" cy="843.7" r="4.7"/><circle cx="1106.3" cy="848.8" r="4.7"/><circle cx="1114.5" cy="842.6" r="4.7"/><circle cx="1116.6" cy="847.8" r="4.7"/><circle cx="1121.7" cy="843.7" r="4.7"/><circle cx="1124.8" cy="847.8" r="4.7"/><circle cx="1127.9" cy="833.4" r="4.7"/><circle cx="1129.9" cy="843.1" r="4.7"/><circle cx="1134.6" cy="831.3" r="4.7"/><circle cx="1135.1" cy="846.7" r="4.7"/><circle cx="1139.2" cy="845.7" r="4.7"/><circle cx="1228.9" cy="806.7" r="4.7"/><circle cx="1220.9" cy="816.8" r="4.7"/><circle cx="1230.4" cy="820.6" r="4.7"/><circle cx="1172.2" cy="816.7" r="4.7"/><circle cx="1165.7" cy="824.1" r="4.7"/><circle cx="1167.2" cy="828.3" r="4.7"/><circle cx="1154.4" cy="824.7" r="4.7"/><circle cx="1147.7" cy="827.2" r="4.7"/><circle cx="1152.4" cy="831.3" r="4.7"/><circle cx="1211.4" cy="822.1" r="4.7"/><circle cx="1213.4" cy="825.7" r="4.7"/><circle cx="1219.1" cy="829.3" r="4.7"/><circle cx="1204.5" cy="831.0" r="4.7"/><circle cx="1181.8" cy="829.8" r="4.7"/><circle cx="1177.5" cy="837.0" r="4.7"/><circle cx="1187.8" cy="836.5" r="4.7"/><circle cx="1185.2" cy="841.6" r="4.7"/><circle cx="1195.0" cy="840.6" r="4.7"/><circle cx="1196.5" cy="845.7" r="4.7"/><circle cx="1191.4" cy="848.8" r="4.7"/><circle cx="1199.6" cy="848.8" r="4.7"/><circle cx="1206.8" cy="843.7" r="4.7"/><circle cx="1214.0" cy="837.5" r="4.7"/><circle cx="1217.0" cy="841.6" r="4.7"/><circle cx="1225.8" cy="847.8" r="4.7"/><circle cx="1160.6" cy="839.0" r="4.7"/><circle cx="1152.4" cy="840.6" r="4.7"/><circle cx="1174.9" cy="844.7" r="4.7"/><circle cx="1165.7" cy="847.8" r="4.7"/><circle cx="1169.8" cy="848.8" r="4.7"/><circle cx="1143.1" cy="844.7" r="4.7"/><circle cx="1145.2" cy="848.8" r="4.7"/><circle cx="156.7" cy="842.4" r="4.7"/><circle cx="166.4" cy="842.4" r="4.7"/><circle cx="169.6" cy="846.8" r="4.7"/><circle cx="229.5" cy="847.0" r="4.7"/><circle cx="368.8" cy="843.2" r="4.7"/><circle cx="540.5" cy="847.5" r="4.7"/><circle cx="940.6" cy="843.7" r="4.7"/><circle cx="1115.6" cy="845.2" r="4.7"/><circle cx="1118.8" cy="846.4" r="4.7"/><circle cx="1120.4" cy="845.1" r="4.7"/><circle cx="1141.5" cy="845.2" r="4.7"/><circle cx="1198.2" cy="847.2" r="4.7"/>
</g>
<path class="ax" style="stroke-width:3.1;stroke-linecap:round" d="M143.7 750.7H1235.5"/>
<circle cx="702.5" cy="596" r="3.9" fill="#dc2222" stroke="#8e1a16" stroke-width="0.9"/>
<circle cx="518.5" cy="715.8" r="3.9" fill="#dc2222" stroke="#8e1a16" stroke-width="0.9"/>
<text x="127.8" y="859.9" font-size="27" text-anchor="end">0</text>
<text x="127.8" y="809.2" font-size="27" text-anchor="end">1</text>
<text x="127.8" y="758.6" font-size="27" text-anchor="end">2</text>
<text x="127.8" y="707.9" font-size="27" text-anchor="end">3</text>
<text x="127.8" y="657.2" font-size="27" text-anchor="end">4</text>
<text x="127.8" y="606.6" font-size="27" text-anchor="end">5</text>
<text x="127.8" y="555.9" font-size="27" text-anchor="end">6</text>
<text x="144.9" y="889.8" font-size="27" text-anchor="middle">1</text>
<text x="470.2" y="889.8" font-size="27" text-anchor="middle">200</text>
<text x="792.1" y="889.8" font-size="27" text-anchor="middle">399</text>
<text x="1114.5" y="889.8" font-size="27" text-anchor="middle">598</text>
<text x="574.5" y="906.7" font-size="32.3" textLength="163.5" lengthAdjust="spacingAndGlyphs">Phenotype</text>
<text transform="translate(86.5 778.7) rotate(-90)" font-size="32.3" textLength="143.5" lengthAdjust="spacing">-log10(P)</text>
<text x="458.4" y="579.4" font-size="32.3">Free fatty acids (FFA) in plasma</text>
<text x="359.4" y="699.9" font-size="32.3">Triglycerides in plasma</text>
</g>
<g id="panelC">
<path class="ax" d="M1416.2 81.1V437.8"/>
<path class="ax" d="M1401.7 424.0H1929.6"/>
<path class="ax" d="M1401.7 338.7H1416.2"/>
<path class="ax" d="M1401.7 253.3H1416.2"/>
<path class="ax" d="M1401.7 168.0H1416.2"/>
<path class="ax" d="M1401.7 82.7H1416.2"/>
<path class="ax" d="M1586.8 424.0V437.8"/>
<path class="ax" d="M1757.4 424.0V437.8"/>
<path class="ax" d="M1928.0 424.0V437.8"/>
<text x="1398.4" y="433.0" font-size="26" text-anchor="end">0</text>
<text x="1398.4" y="347.7" font-size="26" text-anchor="end">1</text>
<text x="1398.4" y="262.4" font-size="26" text-anchor="end">2</text>
<text x="1398.4" y="177.0" font-size="26" text-anchor="end">3</text>
<text x="1398.4" y="91.7" font-size="26" text-anchor="end">4</text>
<text x="1416.6" y="467.3" font-size="26" text-anchor="middle">6.5</text>
<text x="1587.2" y="467.3" font-size="26" text-anchor="middle">7.0</text>
<text x="1757.8" y="467.3" font-size="26" text-anchor="middle">7.5</text>
<text x="1928.4" y="467.3" font-size="26" text-anchor="middle">8.0</text>
<text transform="translate(1345.3 445.7) rotate(-90)" font-size="29.5">Free fatty acids in plasma</text>
<text x="1437.6" y="84" font-size="27.5">P=0.0151</text>
<text x="1438.2" y="116.8" font-size="27.5" textLength="121.3" lengthAdjust="spacing">r=-0.3771</text>
<path class="rl" d="M1462.2 307.7L1873.4 395.8"/>
<g class="bd"><circle cx="1462.2" cy="354.7" r="6.9"/><circle cx="1508.9" cy="280.1" r="6.9"/><circle cx="1507.0" cy="305.6" r="6.9"/><circle cx="1508.6" cy="319.9" r="6.9"/><circle cx="1514.3" cy="324.3" r="6.9"/><circle cx="1511.2" cy="349.1" r="6.9"/><circle cx="1510.2" cy="355.2" r="6.9"/><circle cx="1519.4" cy="350.3" r="6.9"/><circle cx="1524.6" cy="346.8" r="6.9"/><circle cx="1531.1" cy="367.4" r="6.9"/><circle cx="1529.0" cy="380.5" r="6.9"/><circle cx="1543.0" cy="283.1" r="6.9"/><circle cx="1546.8" cy="319.9" r="6.9"/><circle cx="1549.6" cy="336.5" r="6.9"/><circle cx="1556.4" cy="339.5" r="6.9"/><circle cx="1546.8" cy="359.9" r="6.9"/><circle cx="1556.6" cy="302.5" r="6.9"/><circle cx="1560.8" cy="296.7" r="6.9"/><circle cx="1562.2" cy="356.4" r="6.9"/><circle cx="1571.6" cy="344.4" r="6.9"/><circle cx="1570.2" cy="370.0" r="6.9"/><circle cx="1582.4" cy="305.6" r="6.9"/><circle cx="1590.6" cy="279.4" r="6.9"/><circle cx="1595.8" cy="367.9" r="6.9"/><circle cx="1602.8" cy="367.9" r="6.9"/><circle cx="1613.1" cy="369.5" r="6.9"/><circle cx="1621.5" cy="371.2" r="6.9"/><circle cx="1628.5" cy="362.7" r="6.9"/><circle cx="1624.5" cy="383.5" r="6.9"/><circle cx="1618.0" cy="330.2" r="6.9"/><circle cx="1620.1" cy="297.2" r="6.9"/><circle cx="1628.5" cy="315.4" r="6.9"/><circle cx="1646.6" cy="370.0" r="6.9"/><circle cx="1670.4" cy="360.1" r="6.9"/><circle cx="1683.5" cy="359.2" r="6.9"/><circle cx="1698.8" cy="348.2" r="6.9"/><circle cx="1734.1" cy="383.5" r="6.9"/><circle cx="1510.2" cy="128.1" r="6.9"/><circle cx="1489.7" cy="224.0" r="6.9"/><circle cx="1806.6" cy="374.2" r="6.9"/><circle cx="1873.6" cy="361.6" r="6.9"/></g>
</g>
<g id="panelD">
<path class="ax" d="M1416.2 511.9V868"/>
<path class="ax" d="M1401.7 853.9H1929.6"/>
<path class="ax" d="M1401.7 785.8H1416.2"/>
<path class="ax" d="M1401.7 717.7H1416.2"/>
<path class="ax" d="M1401.7 649.7H1416.2"/>
<path class="ax" d="M1401.7 581.6H1416.2"/>
<path class="ax" d="M1401.7 513.5H1416.2"/>
<path class="ax" d="M1586.8 853.9V868"/>
<path class="ax" d="M1757.4 853.9V868"/>
<path class="ax" d="M1928.0 853.9V868"/>
<text x="1398.4" y="862.4" font-size="26" text-anchor="end">0.0</text>
<text x="1398.4" y="794.3" font-size="26" text-anchor="end">0.5</text>
<text x="1398.4" y="726.2" font-size="26" text-anchor="end">1.0</text>
<text x="1398.4" y="658.2" font-size="26" text-anchor="end">1.5</text>
<text x="1398.4" y="590.1" font-size="26" text-anchor="end">2.0</text>
<text x="1398.4" y="522.0" font-size="26" text-anchor="end">2.5</text>
<text x="1416.6" y="897.8" font-size="26" text-anchor="middle">6.5</text>
<text x="1587.2" y="897.8" font-size="26" text-anchor="middle">7.0</text>
<text x="1757.8" y="897.8" font-size="26" text-anchor="middle">7.5</text>
<text x="1928.4" y="897.8" font-size="26" text-anchor="middle">8.0</text>
<text transform="translate(1345.3 857.8) rotate(-90)" font-size="29.5">Triglycerides in plasma</text>
<text x="1438.1" y="513.9" font-size="27.5" textLength="120.7" lengthAdjust="spacing">P=0.0053</text>
<text x="1438.2" y="547" font-size="27.5" textLength="123.7" lengthAdjust="spacing">r=-0.4273</text>
<path class="rl" d="M1462.2 672.6L1872.8 784.4"/>
<g class="bd"><circle cx="1462.2" cy="652.0" r="6.9"/><circle cx="1514.2" cy="587.1" r="6.9"/><circle cx="1511.9" cy="608.5" r="6.9"/><circle cx="1510.3" cy="626.8" r="6.9"/><circle cx="1549.6" cy="597.5" r="6.9"/><circle cx="1562.2" cy="633.0" r="6.9"/><circle cx="1543.0" cy="648.5" r="6.9"/><circle cx="1556.4" cy="659.5" r="6.9"/><circle cx="1621.2" cy="651.6" r="6.9"/><circle cx="1628.5" cy="654.2" r="6.9"/><circle cx="1683.5" cy="668.7" r="6.9"/><circle cx="1490.1" cy="679.5" r="6.9"/><circle cx="1508.9" cy="674.3" r="6.9"/><circle cx="1510.7" cy="678.3" r="6.9"/><circle cx="1571.6" cy="692.1" r="6.9"/><circle cx="1646.6" cy="700.5" r="6.9"/><circle cx="1506.8" cy="700.1" r="6.9"/><circle cx="1519.1" cy="706.2" r="6.9"/><circle cx="1570.2" cy="709.7" r="6.9"/><circle cx="1508.6" cy="715.3" r="6.9"/><circle cx="1529.0" cy="724.0" r="6.9"/><circle cx="1531.6" cy="738.9" r="6.9"/><circle cx="1524.3" cy="745.5" r="6.9"/><circle cx="1556.1" cy="728.7" r="6.9"/><circle cx="1560.9" cy="726.6" r="6.9"/><circle cx="1582.4" cy="736.6" r="6.9"/><circle cx="1590.6" cy="724.0" r="6.9"/><circle cx="1596.5" cy="727.9" r="6.9"/><circle cx="1619.8" cy="728.7" r="6.9"/><circle cx="1628.5" cy="722.3" r="6.9"/><circle cx="1624.5" cy="740.1" r="6.9"/><circle cx="1618.0" cy="746.2" r="6.9"/><circle cx="1602.8" cy="754.9" r="6.9"/><circle cx="1546.8" cy="765.9" r="6.9"/><circle cx="1670.4" cy="764.2" r="6.9"/><circle cx="1734.1" cy="762.4" r="6.9"/><circle cx="1613.3" cy="810.4" r="6.9"/><circle cx="1698.8" cy="797.2" r="6.9"/><circle cx="1806.3" cy="703.9" r="6.9"/><circle cx="1873.5" cy="777.4" r="6.9"/></g>
</g>
</svg></body></html>
